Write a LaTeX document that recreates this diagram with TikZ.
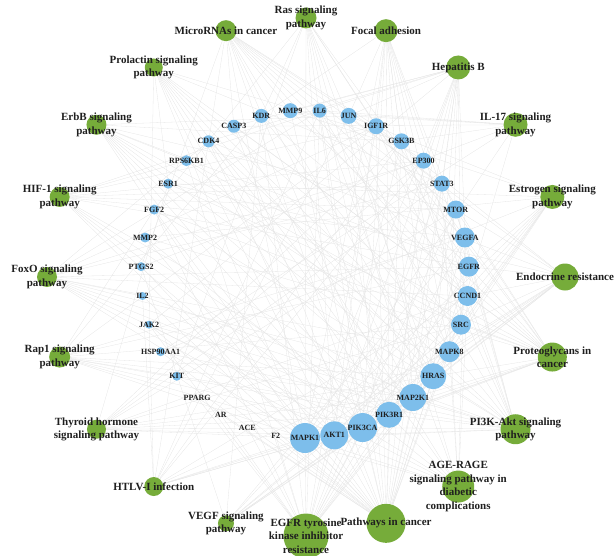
\documentclass[tikz,border=0pt]{standalone}
\usepackage{fontspec}
\setmainfont{Liberation Serif}
\usetikzlibrary{backgrounds}

\definecolor{genblue}{RGB}{125,190,235}
\definecolor{keggreen}{RGB}{118,172,58}

\begin{document}
\begin{tikzpicture}[
  x=1pt, y=1pt,
  every node/.style={inner sep=0pt},
  gene/.style={circle, fill=genblue, minimum size=#1},
  kegg/.style={circle, fill=keggreen, minimum size=#1},
  glbl/.style={font=\fontsize{8}{9}\selectfont\bfseries, text=black!88},
  plbl/.style={font=\fontsize{11}{13.5}\selectfont\bfseries, text=black!88, align=center},
  link/.style={draw=black!10, line width=0.3pt},
]
\useasboundingbox (0,0) rectangle (615,555);

% ===== TARGET GENES (inner ring, r=164) =====
\begin{scope}[shift={(305,281)}]
\node[gene=30, label={[glbl]center:MAPK1}]    (MAPK1)    at (270:164)    {};
\node[gene=28, label={[glbl]center:AKT1}]     (AKT1)     at (280.29:164) {};
\node[gene=29, label={[glbl]center:PIK3CA}]   (PIK3CA)   at (290.57:164) {};
\node[gene=26, label={[glbl]center:PIK3R1}]   (PIK3R1)   at (300.86:164) {};
\node[gene=27, label={[glbl]center:MAP2K1}]   (MAP2K1)   at (311.14:164) {};
\node[gene=26, label={[glbl]center:HRAS}]     (HRAS)     at (321.43:164) {};
\node[gene=21, label={[glbl]center:MAPK8}]    (MAPK8)    at (331.71:164) {};
\node[gene=20, label={[glbl]center:SRC}]      (SRC)      at (342:164)    {};
\node[gene=20, label={[glbl]center:CCND1}]    (CCND1)    at (352.29:164) {};
\node[gene=20, label={[glbl]center:EGFR}]     (EGFR)     at (2.57:164)   {};
\node[gene=20, label={[glbl]center:VEGFA}]    (VEGFA)    at (12.86:164)  {};
\node[gene=18, label={[glbl]center:MTOR}]     (MTOR)     at (23.14:164)  {};
\node[gene=16, label={[glbl]center:STAT3}]    (STAT3)    at (33.43:164)  {};
\node[gene=16, label={[glbl]center:EP300}]    (EP300)    at (43.71:164)  {};
\node[gene=16, label={[glbl]center:GSK3B}]    (GSK3B)    at (54:164)     {};
\node[gene=16, label={[glbl]center:IGF1R}]    (IGF1R)    at (64.29:164)  {};
\node[gene=16, label={[glbl]center:JUN}]      (JUN)      at (74.57:164)  {};
\node[gene=14, label={[glbl]center:IL6}]      (IL6)      at (84.86:164)  {};
\node[gene=15, label={[glbl]center:MMP9}]     (MMP9)     at (95.14:164)  {};
\node[gene=14, label={[glbl]center:KDR}]      (KDR)      at (105.43:164) {};
\node[gene=13, label={[glbl]center:CASP3}]    (CASP3)    at (115.71:164) {};
\node[gene=12, label={[glbl]center:CDK4}]     (CDK4)     at (126:164)    {};
\node[gene=11, label={[glbl]center:RPS6KB1}]  (RPS6KB1)  at (136.29:164) {};
\node[gene=10, label={[glbl]center:ESR1}]     (ESR1)     at (146.57:164) {};
\node[gene=10, label={[glbl]center:FGF2}]     (FGF2)     at (156.86:164) {};
\node[gene=10, label={[glbl]center:MMP2}]     (MMP2)     at (167.14:164) {};
\node[gene=9,  label={[glbl]center:PTGS2}]    (PTGS2)    at (177.43:164) {};
\node[gene=8,  label={[glbl]center:IL2}]      (IL2)      at (187.71:164) {};
\node[gene=8,  label={[glbl]center:JAK2}]     (JAK2)     at (198:164)    {};
\node[gene=9,  label={[glbl]center:HSP90AA1}] (HSP90AA1) at (208.29:164) {};
\node[gene=9,  label={[glbl]center:KIT}]      (KIT)      at (218.57:164) {};
\node[gene=0,  label={[glbl]center:PPARG}]    (PPARG)    at (228.86:164) {};
\node[gene=0,  label={[glbl]center:AR}]       (AR)       at (239.14:164) {};
\node[gene=0,  label={[glbl]center:ACE}]      (ACE)      at (249.43:164) {};
\node[gene=0,  label={[glbl]center:F2}]       (F2)       at (259.71:164) {};
\end{scope}

% ===== KEGG PATHWAYS (outer ring, r=259) =====
\begin{scope}[shift={(306,278)}]
\node[kegg=21, label={[plbl]center:{Ras signaling\\pathway}}]           (ras)       at (90:259)   {};
\node[kegg=23, label={[plbl]center:Focal adhesion}]                     (focal)     at (72:259)   {};
\node[kegg=24, label={[plbl]center:Hepatitis B}]                        (hepb)      at (54:259)   {};
\node[kegg=24, label={[plbl]center:{IL-17 signaling\\pathway}}]         (il17)      at (36:259)   {};
\node[kegg=24, label={[plbl]center:{Estrogen signaling\\pathway}}]      (estrogen)  at (18:259)   {};
\node[kegg=27, label={[plbl]center:Endocrine resistance}]               (endocrine) at (0:259)    {};
\node[kegg=29, label={[plbl]center:{Proteoglycans in\\cancer}}]         (proteo)    at (-18:259)  {};
\node[kegg=30, label={[plbl]center:{PI3K-Akt signaling\\pathway}}]      (pi3k)      at (-36:259)  {};
\node[kegg=32, label={[plbl]center:{AGE-RAGE\\signaling pathway in\\diabetic\\complications}}] (agerage) at (-54:259) {};
\node[kegg=39, label={[plbl]center:Pathways in cancer}]                 (pincancer) at (-72:259)  {};
\node[kegg=45, label={[plbl]center:{EGFR tyrosine\\kinase inhibitor\\resistance}}] (egfrtki) at (-90:259) {};
\node[kegg=16, label={[plbl]center:{VEGF signaling\\pathway}}]          (vegf)      at (-108:259) {};
\node[kegg=19, label={[plbl]center:HTLV-I infection}]                   (htlv)      at (-126:259) {};
\node[kegg=19, label={[plbl]center:{Thyroid hormone\\signaling pathway}}] (thyroid) at (-144:259) {};
\node[kegg=21, label={[plbl]center:{Rap1 signaling\\pathway}}]          (rap1)      at (-162:259) {};
\node[kegg=20, label={[plbl]center:{FoxO signaling\\pathway}}]          (foxo)      at (180:259)  {};
\node[kegg=20, label={[plbl]center:{HIF-1 signaling\\pathway}}]         (hif1)      at (162:259)  {};
\node[kegg=20, label={[plbl]center:{ErbB signaling\\pathway}}]          (erbb)      at (144:259)  {};
\node[kegg=18, label={[plbl]center:{Prolactin signaling\\pathway}}]     (prolactin) at (126:259)  {};
\node[kegg=21, label={[plbl]center:MicroRNAs in cancer}]                (mirna)     at (108:259)  {};
\end{scope}

% ===== PATHWAY -- TARGET LINKS =====
\begin{scope}[on background layer]
\foreach \g in {MAPK1,AKT1,PIK3CA,PIK3R1,MAP2K1,HRAS,MAPK8,EGFR,VEGFA,IGF1R,KDR,FGF2,KIT}
  \draw[link] (ras) -- (\g);
\foreach \g in {MAPK1,AKT1,PIK3CA,PIK3R1,MAP2K1,HRAS,MAPK8,SRC,CCND1,EGFR,VEGFA,GSK3B,IGF1R,JUN,KDR}
  \draw[link] (focal) -- (\g);
\foreach \g in {MAPK1,AKT1,PIK3CA,PIK3R1,MAP2K1,HRAS,MAPK8,SRC,STAT3,EP300,CCND1,JUN,IL6,MMP9,CASP3,CDK4,JAK2}
  \draw[link] (hepb) -- (\g);
\foreach \g in {MAPK1,MAPK8,GSK3B,JUN,IL6,MMP9,CASP3,PTGS2,HSP90AA1}
  \draw[link] (il17) -- (\g);
\foreach \g in {MAPK1,AKT1,PIK3CA,PIK3R1,MAP2K1,HRAS,SRC,EGFR,JUN,ESR1,HSP90AA1,MMP9,MMP2}
  \draw[link] (estrogen) -- (\g);
\foreach \g in {MAPK1,AKT1,PIK3CA,PIK3R1,MAP2K1,HRAS,MAPK8,SRC,CCND1,EGFR,MTOR,IGF1R,JUN,CDK4,ESR1}
  \draw[link] (endocrine) -- (\g);
\foreach \g in {MAPK1,AKT1,PIK3CA,PIK3R1,MAP2K1,HRAS,SRC,CCND1,EGFR,VEGFA,MTOR,STAT3,IGF1R,KDR,MMP9,CASP3,RPS6KB1,ESR1,FGF2,MMP2}
  \draw[link] (proteo) -- (\g);
\foreach \g in {MAPK1,AKT1,PIK3CA,PIK3R1,MAP2K1,HRAS,CCND1,EGFR,VEGFA,MTOR,GSK3B,IGF1R,IL6,KDR,CDK4,RPS6KB1,FGF2,IL2,JAK2,HSP90AA1,KIT}
  \draw[link] (pi3k) -- (\g);
\foreach \g in {MAPK1,AKT1,PIK3CA,PIK3R1,MAPK8,CCND1,VEGFA,STAT3,JUN,IL6,MMP2,CDK4,JAK2,F2,CASP3}
  \draw[link] (agerage) -- (\g);
\foreach \g in {MAPK1,AKT1,PIK3CA,PIK3R1,MAP2K1,HRAS,MAPK8,CCND1,EGFR,VEGFA,MTOR,STAT3,EP300,GSK3B,IGF1R,JUN,IL6,MMP9,CASP3,CDK4,FGF2,MMP2,PTGS2,IL2,JAK2,HSP90AA1,KIT,PPARG,AR,F2}
  \draw[link] (pincancer) -- (\g);
\foreach \g in {MAPK1,AKT1,PIK3CA,PIK3R1,MAP2K1,HRAS,SRC,EGFR,VEGFA,MTOR,STAT3,GSK3B,IGF1R,IL6,KDR,RPS6KB1,FGF2,JAK2,PPARG,AR,ACE,F2}
  \draw[link] (egfrtki) -- (\g);
\foreach \g in {MAPK1,AKT1,PIK3CA,PIK3R1,MAP2K1,HRAS,SRC,VEGFA,KDR,PTGS2}
  \draw[link] (vegf) -- (\g);
\foreach \g in {MAPK1,AKT1,PIK3CA,PIK3R1,MAPK8,CCND1,EP300,GSK3B,JUN,IL6,CDK4,IL2,JAK2}
  \draw[link] (htlv) -- (\g);
\foreach \g in {MAPK1,AKT1,PIK3CA,PIK3R1,MAP2K1,HRAS,SRC,CCND1,MTOR,STAT3,EP300,GSK3B,ESR1}
  \draw[link] (thyroid) -- (\g);
\foreach \g in {MAPK1,AKT1,PIK3CA,PIK3R1,MAP2K1,HRAS,SRC,EGFR,VEGFA,IGF1R,KDR,FGF2,KIT}
  \draw[link] (rap1) -- (\g);
\foreach \g in {MAPK1,AKT1,PIK3CA,PIK3R1,MAP2K1,HRAS,MAPK8,CCND1,EGFR,STAT3,EP300,IGF1R,IL6,CDK4,IL2}
  \draw[link] (foxo) -- (\g);
\foreach \g in {MAPK1,AKT1,PIK3CA,PIK3R1,MAP2K1,EGFR,VEGFA,MTOR,STAT3,EP300,IGF1R,IL6,RPS6KB1}
  \draw[link] (hif1) -- (\g);
\foreach \g in {MAPK1,AKT1,PIK3CA,PIK3R1,MAP2K1,HRAS,MAPK8,SRC,EGFR,MTOR,GSK3B,JUN,RPS6KB1}
  \draw[link] (erbb) -- (\g);
\foreach \g in {MAPK1,AKT1,PIK3CA,PIK3R1,MAP2K1,HRAS,MAPK8,SRC,CCND1,STAT3,GSK3B,ESR1,JAK2}
  \draw[link] (prolactin) -- (\g);
\foreach \g in {MAPK1,PIK3CA,PIK3R1,MAP2K1,HRAS,CCND1,EGFR,VEGFA,MTOR,STAT3,EP300,IGF1R,MMP9,CASP3,CDK4,PTGS2}
  \draw[link] (mirna) -- (\g);
\end{scope}

\end{tikzpicture}
\end{document}
